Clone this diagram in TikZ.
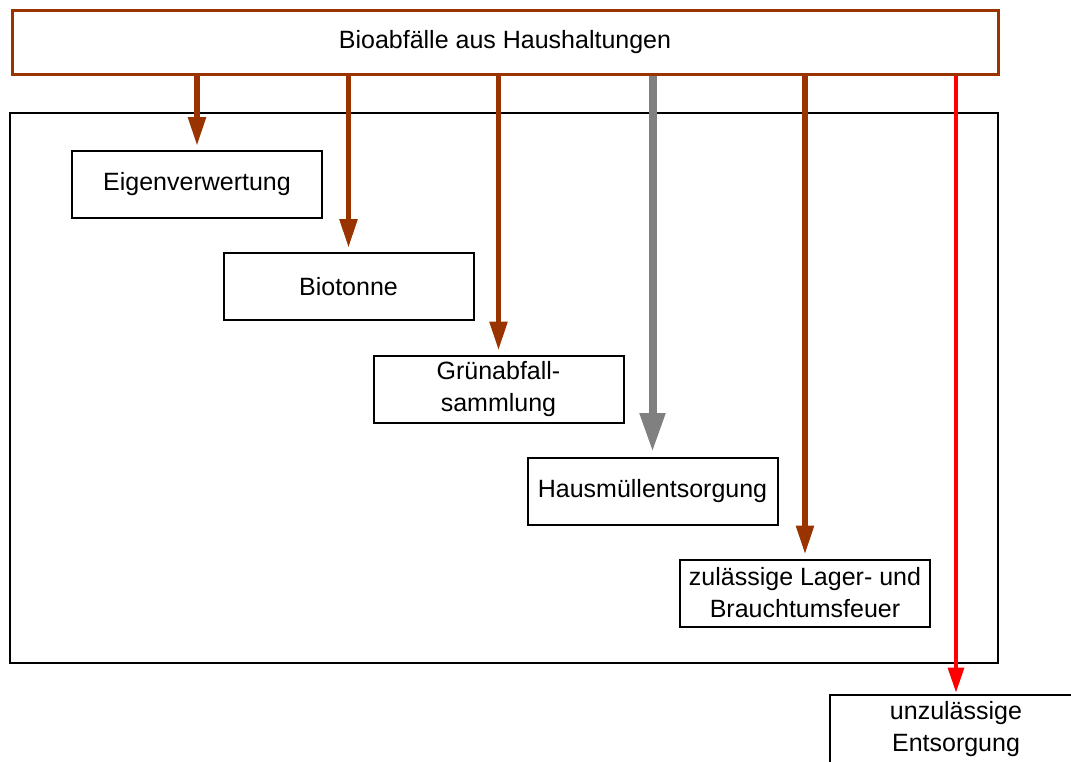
\documentclass[tikz,border=0pt]{standalone}
\usepackage{fontspec}
\setmainfont{Liberation Sans}
\usetikzlibrary{arrows.meta,positioning}
\definecolor{bioBrown}{RGB}{153,51,0}
\definecolor{bioGray}{RGB}{128,128,128}

\begin{document}
\begin{tikzpicture}[x=0.5pt, y=-0.5pt,
    every node/.style={font=\fontsize{12.5}{16}\selectfont, align=center, inner sep=0pt},
    wegbox/.style={rectangle, draw=black, line width=1pt, minimum width=125pt, minimum height=33.5pt},
    bioarrow/.style={draw=bioBrown, line width=2.7pt, -{Triangle[width=8.5pt,length=14.5pt]}, shorten >=2pt},
    grayarrow/.style={draw=bioGray, line width=4pt, -{Triangle[width=12pt,length=19.5pt]}, shorten >=2.5pt},
    redarrow/.style={draw=red, line width=1.7pt, -{Triangle[width=8pt,length=12.5pt]}, shorten >=1pt}]
    \useasboundingbox (0,0) rectangle (1071,761);

    % Quelle
    \node[rectangle, draw=bioBrown, line width=1.5pt, minimum width=493pt, minimum height=32pt] (quelle) at (505,42) {Bioabfälle aus Haushaltungen};

    % Rahmen der zulaessigen Wege
    \draw[line width=0.8pt] (10,113) rectangle (998,663);

    % Entsorgungswege
    \node[wegbox] (eigen) at (197,184.5) {Eigenverwertung};
    \node[wegbox] (tonne) at (348.5,286.5) {Biotonne};
    \node[wegbox] (gruen) at (498.5,389) {Grünabfall-\\sammlung};
    \node[wegbox] (haus) at (652.5,491.5) {Hausmüllentsorgung};
    \node[wegbox] (feuer) at (805,593) {zulässige Lager- und\\Brauchtumsfeuer};
    \node[wegbox, draw=none] (unzul) at (956,729) {unzulässige\\Entsorgung};
    % Kasten laeuft ueber den Bildrand hinaus
    \draw[line width=1pt] ([xshift=60pt]unzul.north east) -- (unzul.north west) -- ([yshift=-30pt]unzul.south west);

    % Pfeile
    \draw[bioarrow] (quelle.south -| eigen.north) -- (eigen.north);
    \draw[bioarrow] (quelle.south -| tonne.north) -- (tonne.north);
    \draw[bioarrow] (quelle.south -| gruen.north) -- (gruen.north);
    \draw[grayarrow] (quelle.south -| haus.north) -- (haus.north);
    \draw[bioarrow] (quelle.south -| feuer.north) -- (feuer.north);
    \draw[redarrow] (quelle.south -| unzul.north) -- (unzul.north);

\end{tikzpicture}
\end{document}
